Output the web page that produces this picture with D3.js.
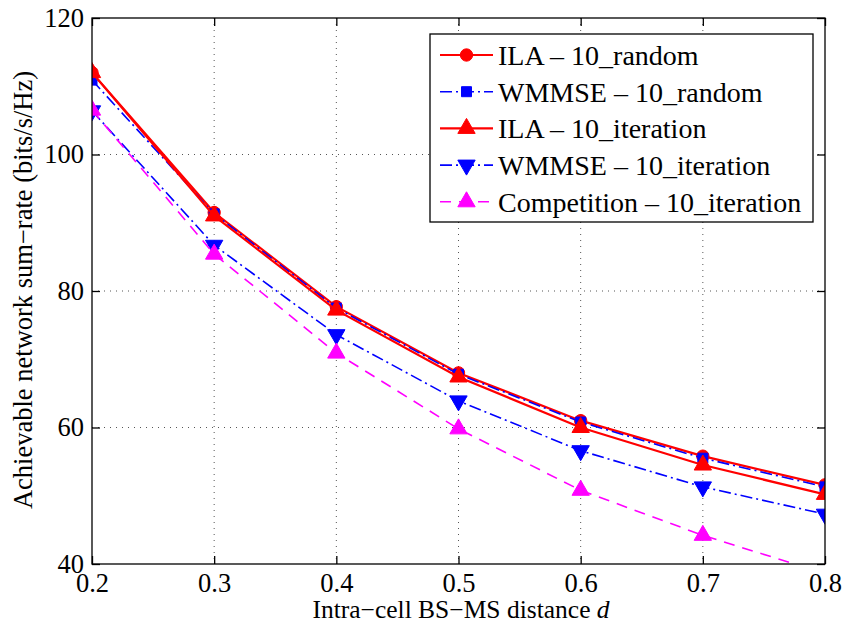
<!DOCTYPE html>
<html><head><meta charset="utf-8">
<script src="https://cdn.jsdelivr.net/npm/d3@7"></script>
<style>body{margin:0;background:#fff}svg{display:block}</style>
</head><body><svg id="c" width="843" height="623"></svg>
<script>
const xVals = [0.2, 0.3, 0.4, 0.5, 0.6, 0.7, 0.8];
const ilaRandom = [112.0, 91.5, 77.7, 68.0, 61.0, 55.8, 51.6];
const wmmseRandom = [110.9, 91.3, 77.5, 67.8, 60.8, 55.5, 51.3];
const ilaIteration = [112.0, 91.0, 77.2, 67.4, 60.0, 54.5, 50.2];
const wmmseIteration = [106.4, 86.7, 73.6, 63.9, 56.6, 51.3, 47.3];
const competitionIteration = [106.5, 85.4, 70.9, 59.8, 50.8, 44.2, 38.6];
const xTicks = [0.2, 0.3, 0.4, 0.5, 0.6, 0.7, 0.8];
const yTicks = [40, 60, 80, 100, 120];
const seriesNames = ["ILA – 10_random", "WMMSE – 10_random", "ILA – 10_iteration", "WMMSE – 10_iteration", "Competition – 10_iteration"];

const series = [
  {name: seriesNames[0], vals: ilaRandom, color: "#ff0000", dash: null, width: 2.2, marker: "circle"},
  {name: seriesNames[1], vals: wmmseRandom, color: "#0000ff", dash: "12,4,2,4", width: 1.6, marker: "square"},
  {name: seriesNames[2], vals: ilaIteration, color: "#ff0000", dash: null, width: 2.2, marker: "tri"},
  {name: seriesNames[3], vals: wmmseIteration, color: "#0000ff", dash: "12,4,2,4", width: 1.6, marker: "tridown"},
  {name: seriesNames[4], vals: competitionIteration, color: "#ff00ff", dash: "11,8", width: 1.6, marker: "tri"}
];

const svg = d3.select("#c");
const L = 92, R = 825, T = 18, B = 564;
const x = d3.scaleLinear().domain([0.2, 0.8]).range([L, R]);
const y = d3.scaleLinear().domain([40, 120]).range([B, T]);
const font = "Liberation Serif";

// grid
const g = svg.append("g");
g.selectAll(".gx").data(xTicks.slice(1, -1)).enter().append("line")
  .attr("x1", d => x(d)).attr("x2", d => x(d)).attr("y1", T).attr("y2", B)
  .attr("stroke", "#555").attr("stroke-width", 1).attr("stroke-dasharray", "1,5");
g.selectAll(".gy").data(yTicks.slice(1, -1)).enter().append("line")
  .attr("y1", d => y(d)).attr("y2", d => y(d)).attr("x1", L).attr("x2", R)
  .attr("stroke", "#555").attr("stroke-width", 1).attr("stroke-dasharray", "1,5");

// clip
svg.append("clipPath").attr("id", "pc").append("rect").attr("x", L).attr("y", T).attr("width", R - L).attr("height", B - T);

const line = d3.line().x((d, i) => x(xVals[i])).y(d => y(d));
const sym = {
  circle: d3.symbol().type(d3.symbolCircle).size(120),
  square: d3.symbol().type(d3.symbolSquare).size(100),
  tri: d3.symbol().type(d3.symbolTriangle).size(130)
};
function drawMarker(sel, m, cx, cy, color) {
  let p;
  if (m === "tridown") p = sel.append("path").attr("d", sym.tri()).attr("transform", `translate(${cx},${cy}) rotate(180)`);
  else p = sel.append("path").attr("d", sym[m]()).attr("transform", `translate(${cx},${cy})`);
  p.attr("fill", color).attr("stroke", color).attr("stroke-width", 1);
}

const plot = svg.append("g").attr("clip-path", "url(#pc)");
series.forEach(s => {
  plot.append("path").datum(s.vals).attr("d", line).attr("fill", "none")
    .attr("stroke", s.color).attr("stroke-width", s.width)
    .attr("stroke-dasharray", s.dash);
  s.vals.forEach((v, i) => drawMarker(plot, s.marker, x(xVals[i]), y(v), s.color));
});

// axes box
svg.append("rect").attr("x", L).attr("y", T).attr("width", R - L).attr("height", B - T)
  .attr("fill", "none").attr("stroke", "#000").attr("stroke-width", 1.3);
const tl = 8;
const axB = d3.axisBottom(x).tickValues(xTicks).tickSize(-tl).tickPadding(9).tickFormat(d3.format(".1f"));
const axT = d3.axisTop(x).tickValues(xTicks).tickSize(-tl).tickFormat("");
const axLft = d3.axisLeft(y).tickValues(yTicks).tickSize(-tl).tickPadding(8).tickFormat(d3.format("d"));
const axRt = d3.axisRight(y).tickValues(yTicks).tickSize(-tl).tickFormat("");
function style(sel) {
  sel.attr("font-family", font);
  sel.select(".domain").remove();
  sel.selectAll("line").attr("stroke", "#000").attr("stroke-width", 1.3);
  sel.selectAll("text").attr("font-family", font).attr("font-size", 26.5).attr("fill", "#000");
}
svg.append("g").attr("transform", `translate(0,${B})`).call(axB).call(style);
svg.append("g").attr("transform", `translate(0,${T})`).call(axT).call(style);
svg.append("g").attr("transform", `translate(${L},0)`).call(axLft).call(style);
svg.append("g").attr("transform", `translate(${R},0)`).call(axRt).call(style);

// labels
const xl = svg.append("text").attr("x", 461).attr("y", 618).attr("text-anchor", "middle")
  .attr("font-family", font).attr("font-size", 25.5);
xl.append("tspan").text("Intra−cell BS−MS distance ");
xl.append("tspan").attr("font-style", "italic").text("d");
svg.append("text").attr("transform", `translate(32,290) rotate(-90)`).attr("text-anchor", "middle")
  .attr("font-family", font).attr("font-size", 26.5).text("Achievable network sum−rate (bits/s/Hz)");

// legend
const lg = svg.append("g");
lg.append("rect").attr("x", 430).attr("y", 34).attr("width", 383).attr("height", 188)
  .attr("fill", "#fff").attr("stroke", "#000").attr("stroke-width", 1.3);
series.forEach((s, i) => {
  const cy = 55 + i * 36.7;
  lg.append("line").attr("x1", 440).attr("x2", 493).attr("y1", cy).attr("y2", cy)
    .attr("stroke", s.color).attr("stroke-width", s.width).attr("stroke-dasharray", s.dash);
  drawMarker(lg, s.marker, 466.5, cy, s.color);
  lg.append("text").attr("x", 498).attr("y", cy + 10).attr("font-family", font).attr("font-size", 28)
    .text(s.name);
});
</script></body></html>
